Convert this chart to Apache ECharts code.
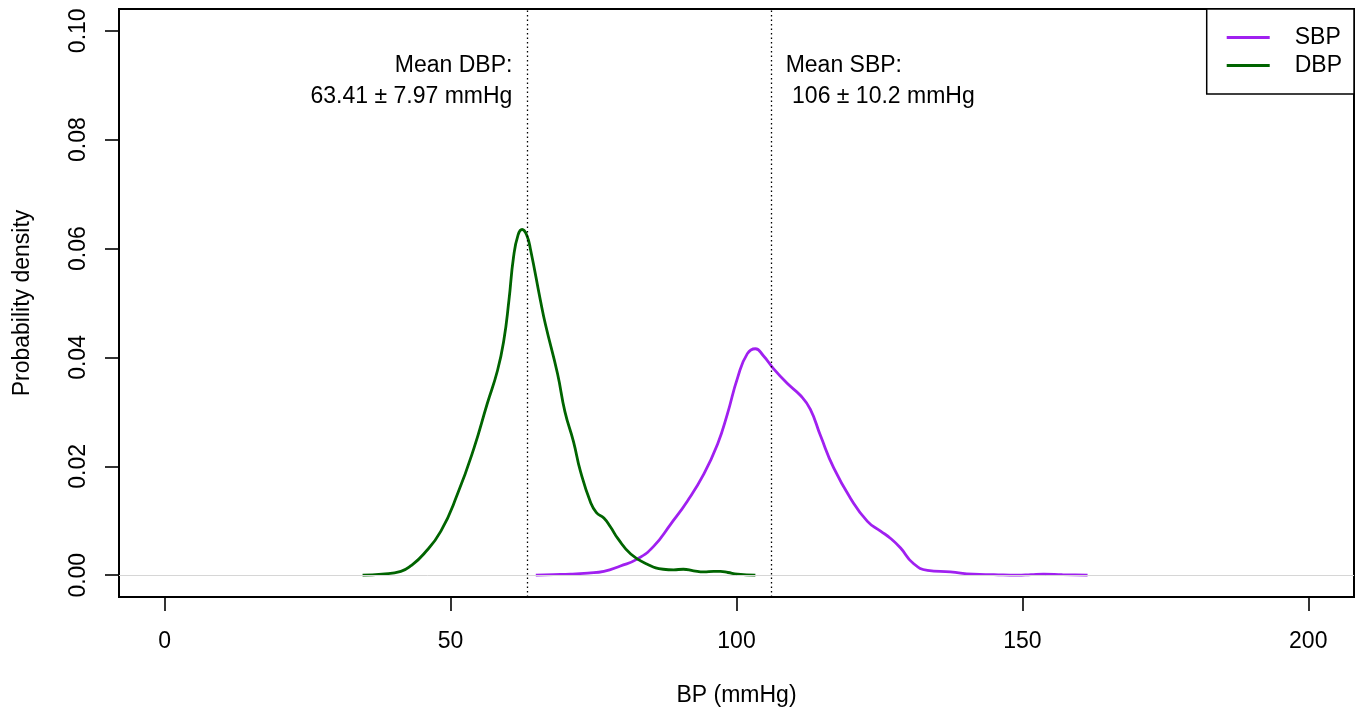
<!DOCTYPE html>
<html lang="en">
<head>
<meta charset="utf-8">
<title>BP density</title>
<style>
  html, body { margin: 0; padding: 0; background: #fff; }
  #chart { width: 1362px; height: 715px; }
</style>
</head>
<body>
<div id="chart"></div>
<script src="https://cdn.jsdelivr.net/npm/echarts@6/dist/echarts.min.js"></script>
<script>
// density estimates
var sbpX = [64.9, 68, 71, 74, 76.8, 79.7, 82.7, 85.5, 88.5, 91.4, 94.3, 96.7, 98.4, 100.2, 101.9, 103.3, 104.7, 106.5, 108.9, 111.2, 112.9, 114.7, 117, 119.9, 122.9, 125.2, 126.9, 128.7, 130.9, 133.4, 137.4, 141.4, 145, 149.1, 151.5, 153.7, 157, 161.4];
var sbpY = [0, 0.0001, 0.0002, 0.0004, 0.0007, 0.0017, 0.003, 0.0053, 0.0094, 0.0136, 0.0186, 0.0241, 0.0296, 0.0363, 0.0407, 0.0416, 0.0403, 0.0379, 0.0352, 0.033, 0.0305, 0.0256, 0.0197, 0.0142, 0.0099, 0.0081, 0.0068, 0.005, 0.0022, 0.0009, 0.0006, 0.0002, 0.0001, 0, 0.0001, 0.0002, 0.0001, 0];

var dbpX = [34.6, 38, 41.3, 43, 45.3, 48.3, 51.2, 54.1, 56.4, 58.2, 59.3, 60.2, 61.0, 61.8, 62.5, 63.3, 64.0, 65.7, 66.6, 68.7, 70.0, 71.5, 72.7, 74.5, 75.5, 76.8, 78.0, 79.2, 81.5, 84.4, 87.2, 89, 90.7, 92.5, 94.3, 96, 97.2, 98.5, 100.2, 103.3];
var dbpY = [0, 0.0002, 0.0007, 0.0017, 0.0039, 0.0081, 0.0149, 0.0234, 0.0315, 0.0376, 0.0431, 0.0505, 0.0584, 0.0625, 0.0635, 0.0625, 0.0597, 0.0505, 0.046, 0.037, 0.030, 0.0245, 0.0191, 0.0133, 0.0115, 0.0105, 0.0088, 0.0068, 0.0039, 0.002, 0.0011, 0.001, 0.0011, 0.0008, 0.0006, 0.0007, 0.0007, 0.0005, 0.0002, 0];

var xTicks = [0, 50, 100, 150, 200];
var yTicks = [0, 0.02, 0.04, 0.06, 0.08, 0.10];

var meanDBP = 63.41, sdDBP = 7.97;
var meanSBP = 106, sdSBP = 10.2;

function pairs(xs, ys) {
    var out = [];
    for (var i = 0; i < xs.length; i++) out.push([xs[i], ys[i]]);
    return out;
}

var font = 'Liberation Sans, Arial, sans-serif';
var fs = 23;
var chart = echarts.init(document.getElementById('chart'));

var noteLabel = { show: true, distance: 0, fontFamily: font, fontSize: fs, lineHeight: 31, color: '#000' };

var option = {
    animation: false,
    grid: {
        left: 119, right: 8, top: 9, bottom: 118,
        show: true, borderColor: '#000', borderWidth: 2, backgroundColor: 'transparent'
    },
    legend: {
        data: ['SBP', 'DBP'],
        orient: 'vertical',
        right: 8, top: 9,
        icon: 'rect',
        itemWidth: 43, itemHeight: 3,
        itemGap: 5,
        padding: [17, 12, 17, 20],
        borderColor: '#000', borderWidth: 1.5,
        backgroundColor: '#fff',
        textStyle: { fontFamily: font, fontSize: fs, color: '#000', padding: [0, 0, 0, 20] }
    },
    xAxis: {
        type: 'value', min: -8, max: 208,
        name: 'BP (mmHg)', nameLocation: 'middle', nameGap: 87,
        nameTextStyle: { fontFamily: font, fontSize: fs, color: '#000' },
        axisLine: { show: false, onZero: false },
        splitLine: { show: false },
        axisTick: { show: true, length: 14, inside: false, lineStyle: { color: '#000', width: 1.6 }, customValues: xTicks },
        axisLabel: { fontFamily: font, fontSize: fs, color: '#000', margin: 33, customValues: xTicks }
    },
    yAxis: {
        type: 'value', min: -0.004, max: 0.104,
        name: 'Probability density', nameLocation: 'middle', nameGap: 85,
        nameTextStyle: { fontFamily: font, fontSize: fs, color: '#000' },
        axisLine: { show: false, onZero: false },
        splitLine: { show: false },
        axisTick: { show: true, length: 14, lineStyle: { color: '#000', width: 1.6 }, customValues: yTicks },
        axisLabel: {
            fontFamily: font, fontSize: fs, color: '#000', margin: 29, rotate: 90,
            customValues: yTicks,
            formatter: function (v) { return v.toFixed(2); }
        }
    },
    series: [
        {
            name: 'SBP', type: 'line', data: pairs(sbpX, sbpY),
            smooth: 0.5, showSymbol: false,
            lineStyle: { color: '#A020F0', width: 2.8 }, itemStyle: { color: '#A020F0' },
            z: 3,
            markLine: {
                silent: true, symbol: ['none', 'none'], label: { show: false },
                data: [
                    { yAxis: 0, lineStyle: { color: '#d6d6d6', width: 1, type: 'solid' } },
                    { xAxis: meanSBP, lineStyle: { color: '#000', width: 1.3, type: [1.5, 3] } },
                    { xAxis: meanDBP, lineStyle: { color: '#000', width: 1.3, type: [1.5, 3] } }
                ]
            }
        },
        {
            name: 'DBP', type: 'line', data: pairs(dbpX, dbpY),
            smooth: 0.5, showSymbol: false,
            lineStyle: { color: '#006400', width: 2.8 }, itemStyle: { color: '#006400' },
            z: 3
        },
        {
            name: 'notes', type: 'scatter', symbolSize: 0, silent: true,
            itemStyle: { color: '#000', opacity: 1 },
            emphasis: { disabled: true },
            data: [
                { value: [60.8, 0.0908], label: Object.assign({}, noteLabel, { position: 'left', align: 'right', formatter: 'Mean DBP:\n' + meanDBP + ' \u00b1 ' + sdDBP + ' mmHg' }) },
                { value: [108.6, 0.0908], label: Object.assign({}, noteLabel, { position: 'right', align: 'left', formatter: 'Mean SBP:\n ' + meanSBP + ' \u00b1 ' + sdSBP + ' mmHg' }) }
            ],
            label: noteLabel
        }
    ]
};

chart.setOption(option);
</script>
</body>
</html>
